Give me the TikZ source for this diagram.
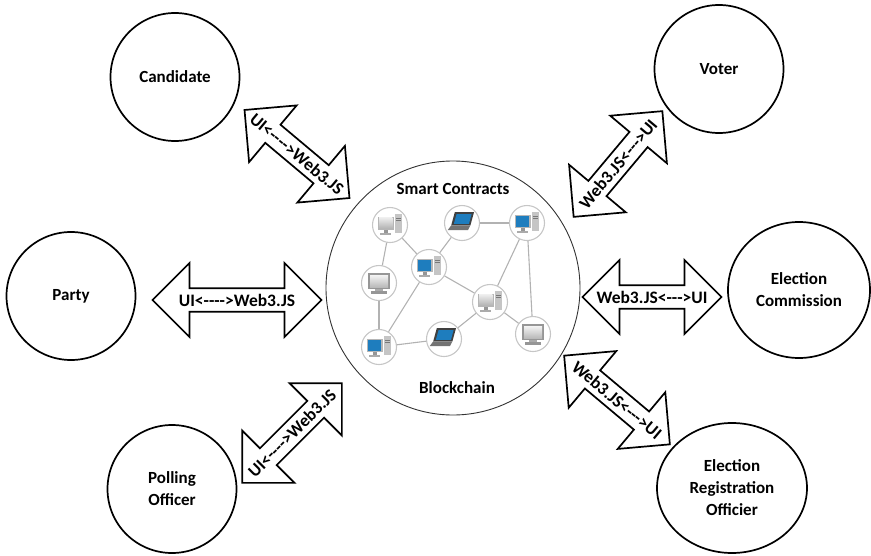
\documentclass[tikz,border=0pt]{standalone}
\usepackage{fontspec}
\setmainfont{Carlito}
\usetikzlibrary{shapes.arrows,shapes.geometric}

\definecolor{scrblue}{RGB}{30,125,190}
\definecolor{casegray}{RGB}{150,150,150}

\tikzset{
    pics/desk/.style={code={
        \fill[casegray!70] (-10,-7) rectangle (3,4);
        \fill[#1] (-9,-6) rectangle (2,3);
        \fill[casegray] (-5,4) rectangle (-2,7);
        \fill[casegray!80] (-8,7) rectangle (1,8.5);
        \fill[casegray!55] (4,-9) rectangle (10,7);
        \draw[casegray!80!black, line width=0.4pt] (5,-6) -- (9,-6) (5,-4) -- (9,-4);
    }},
    pics/laptop/.style={code={
        \fill[black!75] (-6,-9) -- (10,-9) -- (7,2) -- (-9,2) -- cycle;
        \fill[#1] (-4.5,-7.5) -- (8,-7.5) -- (5.8,0.8) -- (-6.8,0.8) -- cycle;
        \fill[black!55] (-9,2) -- (7,2) -- (5,6) -- (-12,6) -- cycle;
    }},
    pics/screen/.style={code={
        \fill[casegray] (-9,-8) rectangle (9,5);
        \fill[#1] (-7.5,-6.5) rectangle (7.5,3.5);
        \fill[casegray!80] (-3,5) rectangle (3,7);
        \fill[casegray] (-7,7) rectangle (7,9);
    }}
}

\begin{document}
\begin{tikzpicture}[x=1pt, y=-1pt,
    every node/.style={font=\fontsize{17}{22}\selectfont\bfseries, align=center},
    actor/.style={ellipse, draw, line width=1.7pt, minimum width=129pt, minimum height=128pt, inner sep=0pt},
    link/.style={double arrow, draw, fill=white, line width=1.7pt, double arrow tip angle=90,
        double arrow head extend=15pt, minimum width=74pt, inner sep=0pt,
        font=\fontsize{17.5}{20}\selectfont\bfseries},
    peer/.style={circle, draw=gray!45, line width=1.1pt, minimum size=35pt, inner sep=0pt},
    wire/.style={draw=gray!60, line width=1.1pt}]

    \useasboundingbox (0,0) rectangle (871,555);

    % users of the system
    \node[actor] (cand) at (175,77) {Candidate};
    \node[actor] (voter) at (719,69) {Voter};
    \node[actor] (party) at (71,296) {Party};
    \node[actor, minimum width=142pt, minimum height=136pt] (comm) at (799,290) {Election\\Commission};
    \node[actor] (poll) at (172,489) {Polling\\Officer};
    \node[actor, minimum width=150pt, minimum height=130pt] (ero) at (732,488) {Election\\Registration\\Officier};

    % blockchain in the middle
    \node[circle, draw=black!80, line width=0.9pt, minimum size=254pt, inner sep=0pt] (hub) at (453,288) {};
    \node (sc) at (453,189) {Smart Contracts};
    \node (bc) at (457,388) {Blockchain};

    \node[peer] (n1) at (390,225) {};
    \node[peer] (n2) at (462,223) {};
    \node[peer] (n3) at (527,223) {};
    \node[peer] (n4) at (379,283) {};
    \node[peer] (n5) at (429,267) {};
    \node[peer] (n6) at (490,302) {};
    \node[peer] (n7) at (533,334) {};
    \node[peer] (n8) at (379,347) {};
    \node[peer] (n9) at (444,339) {};

    \pic[scale=1.2] at (n1) {desk={top color=gray!15, bottom color=gray!60}};
    \pic[scale=1.2] at (n2) {laptop=scrblue};
    \pic[scale=1.2] at (n3) {desk=scrblue};
    \pic[scale=1.2] at (n4) {screen={top color=gray!10, bottom color=gray!55}};
    \pic[scale=1.2] at (n5) {desk=scrblue};
    \pic[scale=1.2] at (n6) {desk={top color=gray!15, bottom color=gray!60}};
    \pic[scale=1.2] at (n7) {screen={top color=gray!10, bottom color=gray!55}};
    \pic[scale=1.2] at (n8) {desk=scrblue};
    \pic[scale=1.2] at (n9) {laptop=scrblue};

    \draw[wire] (n1) -- (n4);
    \draw[wire] (n1) -- (n5);
    \draw[wire] (n2) -- (n3);
    \draw[wire] (n2) -- (n5);
    \draw[wire] (n3) -- (n6);
    \draw[wire] (n3) -- (n7);
    \draw[wire] (n4) -- (n8);
    \draw[wire] (n5) -- (n8);
    \draw[wire] (n5) -- (n6);
    \draw[wire] (n6) -- (n7);
    \draw[wire] (n6) -- (n9);
    \draw[wire] (n8) -- (n9);

    % UI <-> Web3.JS links
    \node[link, minimum height=137pt, rotate=-40] (lcand) at (297,154) {\makebox[0pt]{UI<-{}-{}-{}->Web3.JS}};
    \node[link, minimum height=138pt, rotate=50] (lvoter) at (618,164) {\makebox[0pt]{Web3.JS<-{}-{}->UI}};
    \node[link, minimum height=169pt] (lparty) at (237,300) {\makebox[0pt]{UI<-{}-{}-{}->Web3.JS}};
    \node[link, minimum height=139pt] (lcomm) at (652,297) {\makebox[0pt]{Web3.JS<-{}-{}->UI}};
    \node[link, minimum height=141pt, rotate=45] (lpoll) at (292,433) {\makebox[0pt]{UI<-{}-{}-{}->Web3.JS}};
    \node[link, minimum height=138pt, rotate=-40] (lero) at (617,400) {\makebox[0pt]{Web3.JS<-{}-{}->UI}};
\end{tikzpicture}
\end{document}
